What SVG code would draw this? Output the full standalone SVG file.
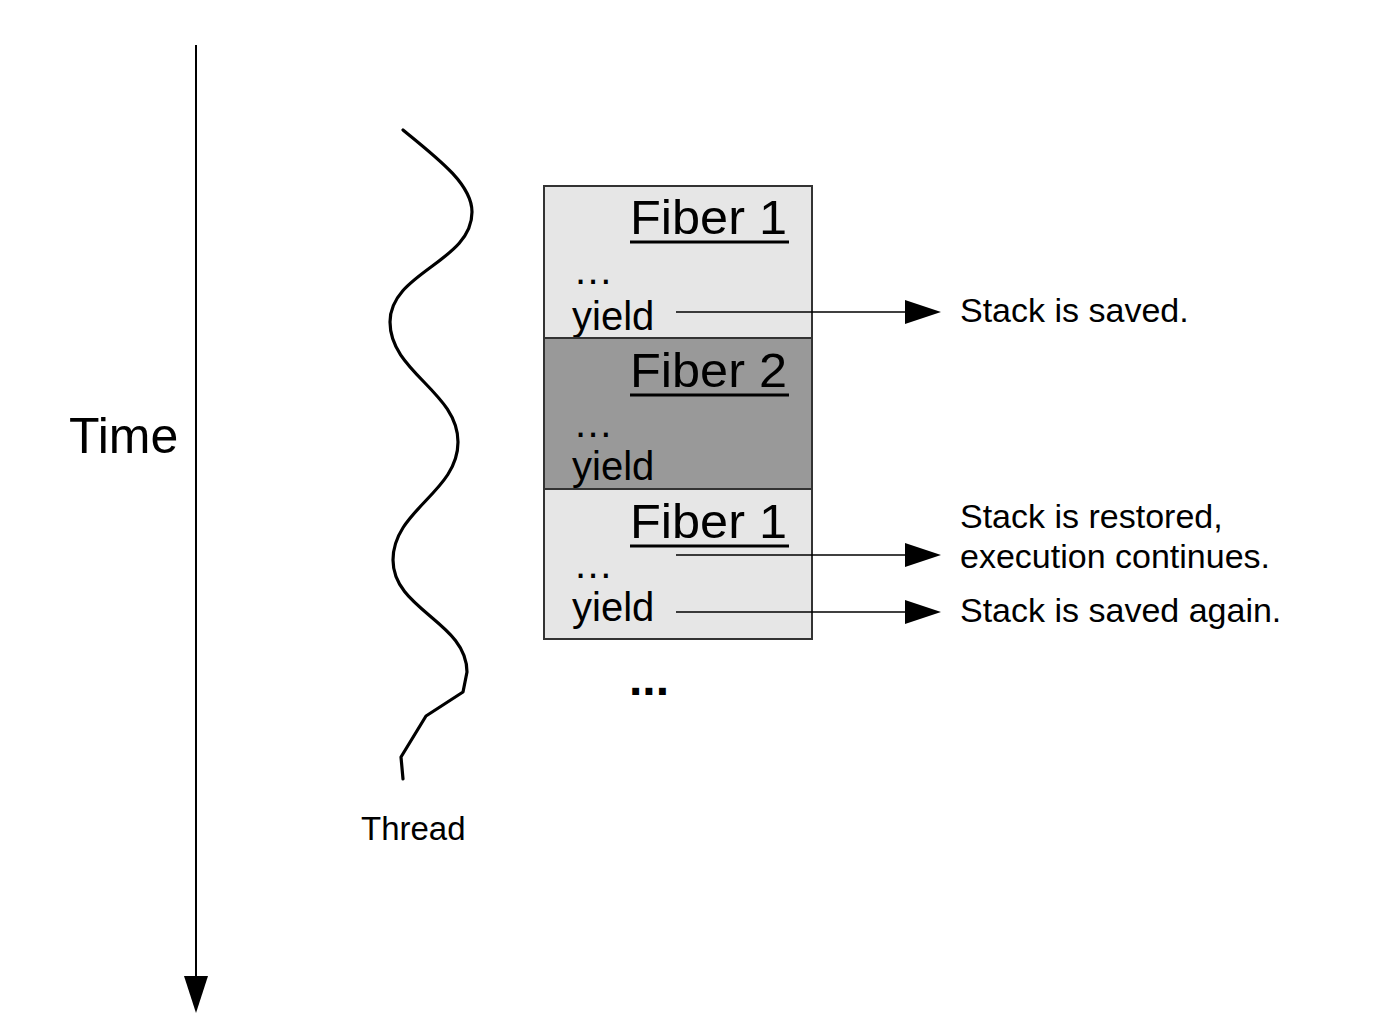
<svg xmlns="http://www.w3.org/2000/svg" width="1380" height="1036" viewBox="0 0 1380 1036">
<style>
text { font-family: "Liberation Sans", Arial, sans-serif; fill: #000; }
.title { font-size: 48px; }
.code { font-size: 40px; }
.note { font-size: 34px; }
.box-light { fill: #e6e6e6; stroke: #333; stroke-width: 2; }
.box-dark { fill: #999999; stroke: #333; stroke-width: 2; }
.ul { stroke: #000; stroke-width: 3; }
.conn { stroke: #000; stroke-width: 1.6; fill: none; }
.head { fill: #000; }
</style>
<rect width="1380" height="1036" fill="#fff"/>

<g id="time-axis">
  <line x1="196" y1="45" x2="196" y2="978" stroke="#000" stroke-width="2"/>
  <polygon points="184,976 208,976 196,1013" fill="#000"/>
  <text x="69" y="453" style="font-size:50px">Time</text>
</g>

<g id="thread">
  <path d="M403,130 C440,160 472,185 472,212 C472,262 390,272 390,322 C390,372 458,392 458,442 C458,492 393,510 393,560 C393,610 467,622 467,672 L463,692 L426,716 L401,757 L403,779" fill="none" stroke="#000" stroke-width="3.2" stroke-linecap="round" stroke-linejoin="round"/>
  <text x="361" y="840" style="font-size:33px">Thread</text>
</g>

<g id="fiber1-a">
  <rect class="box-light" x="544" y="186" width="268" height="152"/>
  <text class="title" x="630" y="234" textLength="157" lengthAdjust="spacingAndGlyphs">Fiber 1</text>
  <line class="ul" x1="630" y1="242" x2="789" y2="242"/>
  <text class="code" x="575" y="284" letter-spacing="1.5">...</text>
  <text class="code" x="572" y="330">yield</text>
</g>

<g id="fiber2">
  <rect class="box-dark" x="544" y="338" width="268" height="151"/>
  <text class="title" x="630" y="387" textLength="157" lengthAdjust="spacingAndGlyphs">Fiber 2</text>
  <line class="ul" x1="630" y1="395" x2="789" y2="395"/>
  <text class="code" x="575" y="437" letter-spacing="1.5">...</text>
  <text class="code" x="572" y="480">yield</text>
</g>

<g id="fiber1-b">
  <rect class="box-light" x="544" y="489" width="268" height="150"/>
  <text class="title" x="630" y="538" textLength="157" lengthAdjust="spacingAndGlyphs">Fiber 1</text>
  <line class="ul" x1="630" y1="546" x2="789" y2="546"/>
  <text class="code" x="575" y="578" letter-spacing="1.5">...</text>
  <text class="code" x="572" y="621">yield</text>
</g>

<g id="more">
  <text x="629" y="695" style="font-size:48px;font-weight:bold">...</text>
</g>

<g id="connectors">
  <line class="conn" x1="676" y1="312" x2="908" y2="312"/>
  <polygon class="head" points="905,300 941,312 905,324"/>
  <line class="conn" x1="676" y1="555" x2="908" y2="555"/>
  <polygon class="head" points="905,543 941,555 905,567"/>
  <line class="conn" x1="676" y1="612" x2="908" y2="612"/>
  <polygon class="head" points="905,600 941,612 905,624"/>
</g>

<g id="notes">
  <text class="note" x="960" y="322">Stack is saved.</text>
  <text class="note" x="960" y="528">Stack is restored,</text>
  <text class="note" x="960" y="568">execution continues.</text>
  <text class="note" x="960" y="622">Stack is saved again.</text>
</g>
</svg>
